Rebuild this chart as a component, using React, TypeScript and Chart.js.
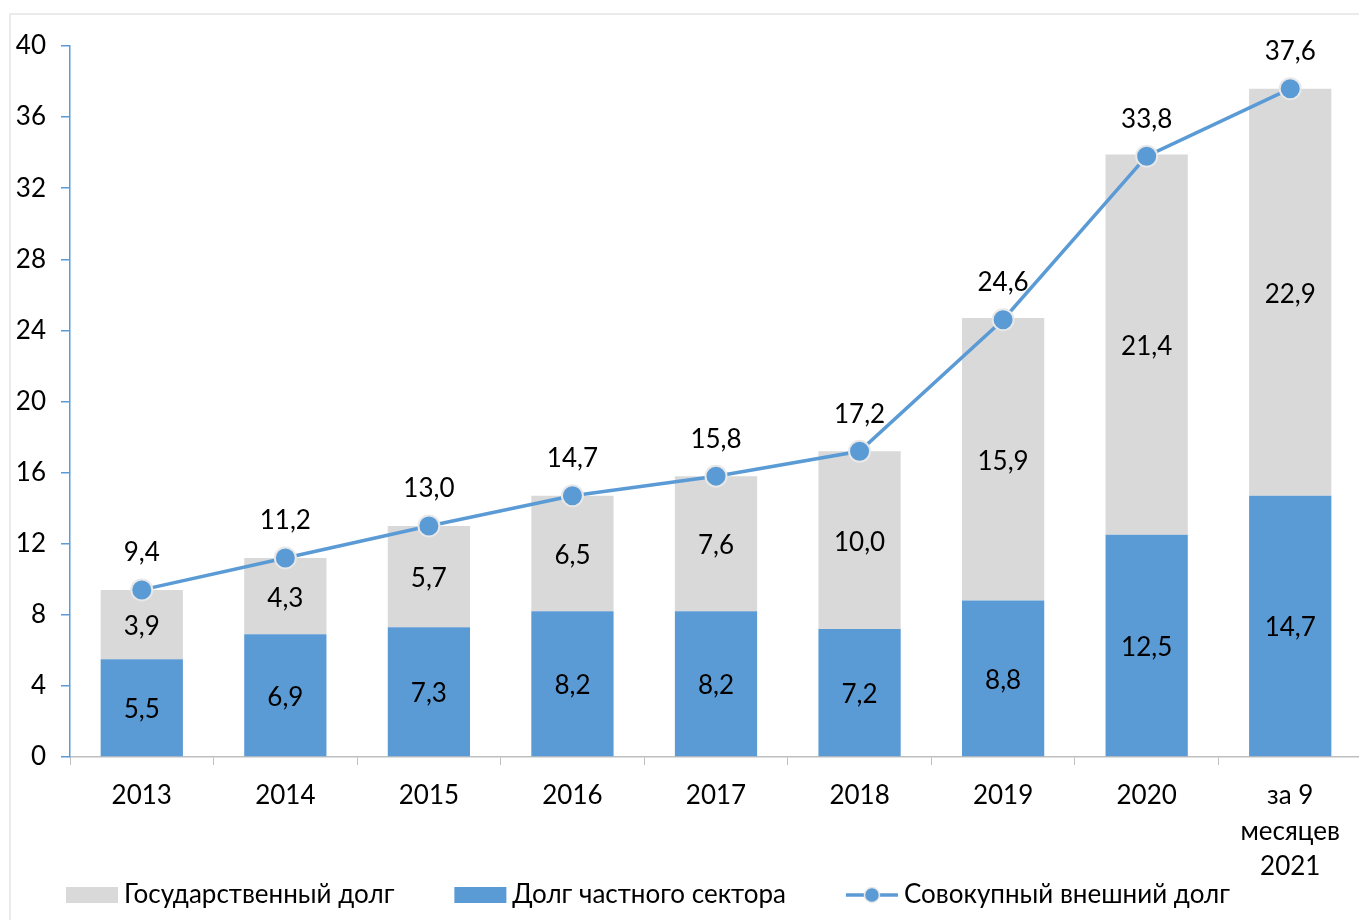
import { useEffect, useRef } from 'react';
import { Chart, registerables } from 'chart.js';

Chart.register(...registerables);

const categories: (string | string[])[] = ['2013', '2014', '2015', '2016', '2017', '2018', '2019', '2020', ['за 9', 'месяцев', '2021']];
const privateDebt = [5.5, 6.9, 7.3, 8.2, 8.2, 7.2, 8.8, 12.5, 14.7];
const governmentDebt = [3.9, 4.3, 5.7, 6.5, 7.6, 10.0, 15.9, 21.4, 22.9];
const totalDebt = [9.4, 11.2, 13.0, 14.7, 15.8, 17.2, 24.6, 33.8, 37.6];
const seriesNames = ['Государственный долг', 'Долг частного сектора', 'Совокупный внешний долг'];
const yMin = 0;
const yMax = 40;
const yStep = 4;

const BLUE = '#5B9BD5';
const GRAY = '#D9D9D9';
const FONT = 'Lato, "Noto Sans", sans-serif';
const FS = 26;

const fmt = (v: number) => v.toFixed(1).replace('.', ',');

const valueLabels = {
  id: 'valueLabels',
  afterDatasetsDraw(chart: any) {
    const ctx = chart.ctx;
    ctx.save();
    ctx.font = `${FS}px ${FONT}`;
    ctx.fillStyle = '#000';
    ctx.textAlign = 'center';
    ctx.textBaseline = 'middle';
    chart.data.datasets.forEach((ds: any, i: number) => {
      const meta = chart.getDatasetMeta(i);
      meta.data.forEach((el: any, j: number) => {
        const v = ds.data[j];
        if (ds.type === 'line') {
          ctx.fillText(fmt(v), el.x, el.y - 37);
        } else {
          const p = el.getProps(['x', 'y', 'base'], true);
          ctx.fillText(fmt(v), p.x, (p.y + p.base) / 2 + 2);
        }
      });
    });
    ctx.restore();
  },
};

const bottomLegend = {
  id: 'bottomLegend',
  afterDraw(chart: any) {
    const ctx = chart.ctx;
    ctx.save();
    ctx.font = `${FS}px ${FONT}`;
    ctx.textBaseline = 'middle';
    ctx.textAlign = 'left';
    const cy = 895;
    let x = 66;
    const order = [1, 0, 2];
    order.forEach((di) => {
      const ds = chart.data.datasets[di];
      if (ds.type === 'line') {
        ctx.strokeStyle = ds.borderColor;
        ctx.lineWidth = 3.5;
        ctx.beginPath();
        ctx.moveTo(x, cy);
        ctx.lineTo(x + 52, cy);
        ctx.stroke();
        ctx.beginPath();
        ctx.arc(x + 26, cy, 7.5, 0, Math.PI * 2);
        ctx.fillStyle = ds.backgroundColor;
        ctx.fill();
        ctx.lineWidth = 1.5;
        ctx.strokeStyle = '#E8E8E8';
        ctx.stroke();
      } else {
        ctx.fillStyle = ds.backgroundColor;
        ctx.fillRect(x, cy - 8, 52, 16);
      }
      ctx.fillStyle = '#000';
      const tx = x + 58;
      ctx.fillText(ds.label, tx, cy);
      x = tx + ctx.measureText(ds.label).width + 60;
    });
    ctx.restore();
  },
};

export default function App() {
  const ref = useRef<HTMLCanvasElement | null>(null);

  useEffect(() => {
    if (!ref.current) return;
    const chart = new Chart(ref.current, {
      type: 'bar',
      data: {
        labels: categories as any,
        datasets: [
          {
            type: 'bar',
            label: seriesNames[1],
            data: privateDebt,
            backgroundColor: BLUE,
            order: 1,
            categoryPercentage: 1,
            barPercentage: 0.573,
          } as any,
          {
            type: 'bar',
            label: seriesNames[0],
            data: governmentDebt,
            backgroundColor: GRAY,
            order: 1,
            categoryPercentage: 1,
            barPercentage: 0.573,
          } as any,
          {
            type: 'line',
            label: seriesNames[2],
            data: totalDebt,
            borderColor: BLUE,
            backgroundColor: BLUE,
            borderWidth: 3.5,
            pointRadius: 10.5,
            pointBorderWidth: 2,
            pointBorderColor: '#E8E8E8',
            pointBackgroundColor: BLUE,
            order: 0,
            tension: 0,
          } as any,
        ],
      },
      options: {
        responsive: false,
        animation: false,
        events: [],
        layout: { autoPadding: false, padding: { top: 46, left: 0, right: 0, bottom: 0 } },
        plugins: {
          legend: { display: false },
          tooltip: { enabled: false },
        },
        scales: {
          x: {
            stacked: true,
            afterFit: (scale: any) => {
              scale.height = 920 - 757;
              scale.paddingRight = 0;
              scale.paddingLeft = 0;
            },
            grid: {
              drawOnChartArea: false,
              tickLength: 8,
              tickColor: '#BFBFBF',
              offset: true,
            },
            border: { color: '#BFBFBF', width: 1.5 },
            ticks: {
              color: '#000',
              padding: 13,
              maxRotation: 0,
              autoSkip: false,
              font: { family: FONT, size: FS, lineHeight: 1.37 },
            },
          },
          y: {
            stacked: true,
            min: yMin,
            max: yMax,
            afterFit: (scale: any) => {
              scale.width = 70;
            },
            grid: {
              drawOnChartArea: false,
              tickLength: 9,
              tickColor: BLUE,
              lineWidth: 1.5,
            },
            border: { color: BLUE, width: 1.5 },
            ticks: {
              stepSize: yStep,
              color: '#000',
              padding: 15,
              font: { family: FONT, size: FS },
              callback: (v: any) => String(v),
            },
          },
        },
      },
      plugins: [valueLabels, bottomLegend],
    });
    return () => chart.destroy();
  }, []);

  return (
    <div
      style={{
        position: 'fixed',
        left: 0,
        top: 0,
        width: 1359,
        height: 920,
        background: '#fff',
        overflow: 'hidden',
      }}
    >
      <div
        style={{
          position: 'absolute',
          left: 9,
          top: 13,
          width: 1400,
          height: 1000,
          border: '2px solid #EBEBEB',
          boxSizing: 'border-box',
        }}
      />
      <canvas ref={ref} width={1362} height={920} style={{ position: 'absolute', left: 0, top: 0 }} />
    </div>
  );
}
